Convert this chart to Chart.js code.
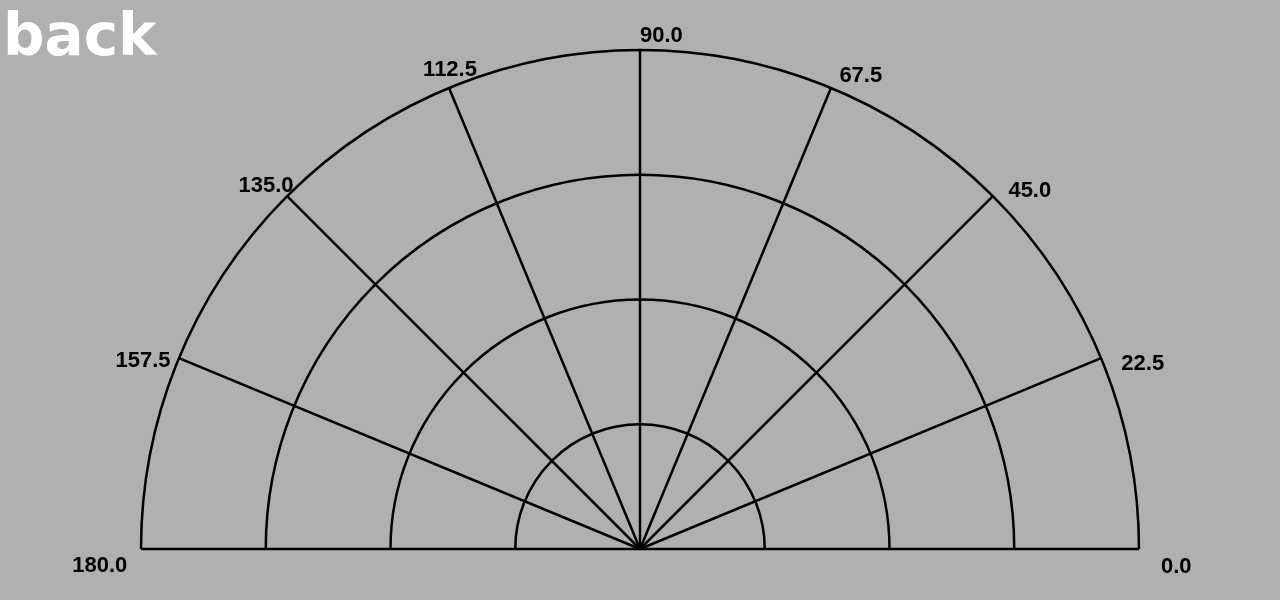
<!DOCTYPE html>
<html>
<head>
<meta charset="utf-8">
<script src="https://cdn.jsdelivr.net/npm/chart.js@4"></script>
<style>
  html, body { margin: 0; padding: 0; background: #b0b0b0; overflow: hidden; }
  #wrap { width: 1280px; height: 600px; position: relative; }
</style>
</head>
<body>
<div id="wrap"><canvas id="polarchart"></canvas></div>
<script>
// grid values
const angles = [0, 22.5, 45, 67.5, 90, 112.5, 135, 157.5, 180];
const angleLabels = ['0.0', '22.5', '45.0', '67.5', '90.0', '112.5', '135.0', '157.5', '180.0'];
const rings = [1, 2, 3, 4];

// layout: centre of the half circle and pixels per ring unit
const centreX = 640, centreY = 549, unitPx = 124.75;
const W = 1280, H = 600;

// draws the half-circle grid using the chart's own x/y scales
const halfPolarGrid = {
    id: 'halfPolarGrid',
    afterDraw(chart) {
        const ctx = chart.ctx;
        const xs = chart.scales.x, ys = chart.scales.y;
        const cx = xs.getPixelForValue(0), cy = ys.getPixelForValue(0);
        const rMax = Math.max(...rings);

        ctx.save();
        ctx.strokeStyle = '#000';
        ctx.lineWidth = 2.5;

        // rings
        rings.forEach(r => {
            const rp = xs.getPixelForValue(r) - cx;
            ctx.beginPath();
            ctx.arc(cx, cy, rp, Math.PI, 2 * Math.PI);
            ctx.stroke();
        });

        // spokes
        angles.forEach(a => {
            const t = a * Math.PI / 180;
            ctx.beginPath();
            ctx.moveTo(cx, cy);
            ctx.lineTo(xs.getPixelForValue(rMax * Math.cos(t)), ys.getPixelForValue(rMax * Math.sin(t)));
            ctx.stroke();
        });

        // angle labels just outside the outer ring
        const R = xs.getPixelForValue(rMax) - cx;
        ctx.fillStyle = '#000';
        ctx.font = 'bold 22px "Liberation Sans", Arial, sans-serif';
        ctx.textBaseline = 'middle';
        angles.forEach((a, i) => {
            const t = a * Math.PI / 180;
            const s = Math.sin(t), c = Math.cos(t);
            const ax = cx + (R + 22) * c, ay = cy - (R + 22) * s;
            const txt = angleLabels[i];
            if (c > -0.01) {
                ctx.textAlign = 'left';
                ctx.fillText(txt, ax, ay + 8 + 9.5 * (1 - s));
            } else {
                const w = ctx.measureText(txt).width;
                ctx.textAlign = 'center';
                ctx.fillText(txt, ax + w / 2 - 0.85 * w * (-c), ay + 1 + 16 * (1 - s));
            }
        });

        // corner caption
        ctx.fillStyle = '#fff';
        ctx.font = 'bold 58px "DejaVu Sans"';
        ctx.textAlign = 'left';
        ctx.textBaseline = 'alphabetic';
        ctx.fillText('back', 3, 55);
        ctx.restore();
    }
};

new Chart(document.getElementById('polarchart').getContext('2d'), {
    type: 'scatter',
    data: { datasets: [] },
    options: {
        responsive: true,
        maintainAspectRatio: false,
        animation: false,
        layout: { padding: 0 },
        plugins: {
            legend: { display: false },
            tooltip: { enabled: false }
        },
        scales: {
            x: { display: false, min: -centreX / unitPx, max: (W - centreX) / unitPx },
            y: { display: false, min: -(H - centreY) / unitPx, max: centreY / unitPx }
        }
    },
    plugins: [halfPolarGrid]
});
</script>
</body>
</html>
